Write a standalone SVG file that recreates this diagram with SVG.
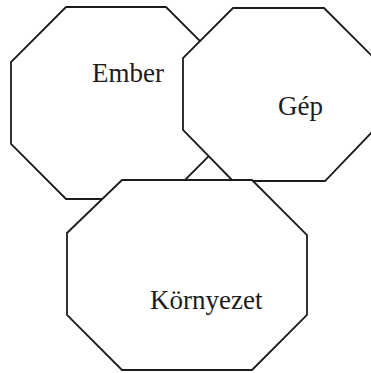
<svg xmlns="http://www.w3.org/2000/svg" width="371" height="373" viewBox="0 0 371 373">
<style>
.oct{fill:#fff;stroke:#1c1c1c;stroke-width:1.8;stroke-linejoin:miter}
.lbl{font-family:"Liberation Serif","Times New Roman",serif;font-size:27px;fill:#1c1c1c}
</style>
<rect width="371" height="373" fill="#fff"/>
<g id="ember">
<polygon class="oct" points="66,7 166,7 221,62 221,144 166,199 66,199 11,144 11,62"/>
<text class="lbl" x="92" y="82">Ember</text>
</g>
<g id="gep">
<polygon class="oct" points="233,8 324,8 373,57 373,131 325,181 233,181 183,130 183,58"/>
<text class="lbl" x="278" y="115">Gép</text>
</g>
<g id="kornyezet">
<polygon class="oct" points="122,180 252,180 307,235 307,315 252,370 122,370 67,315 67,233"/>
<text class="lbl" x="150" y="309">Környezet</text>
</g>
<g id="connectors"/>
</svg>
